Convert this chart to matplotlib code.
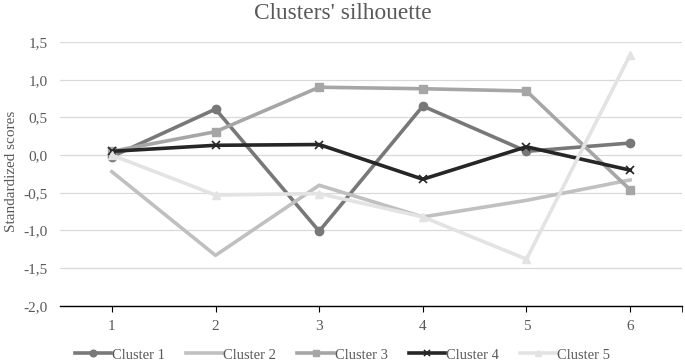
import numpy as np
import matplotlib
matplotlib.use('Agg')
import matplotlib.pyplot as plt

# values
steps = [1, 2, 3, 4, 5, 6]
cluster_1 = [-0.02, 0.61, -1.01, 0.65, 0.05, 0.16]
cluster_2 = [-0.22, -1.33, -0.40, -0.82, -0.60, -0.33]
cluster_3 = [0.05, 0.31, 0.90, 0.88, 0.85, -0.46]
cluster_4 = [0.05, 0.13, 0.14, -0.32, 0.11, -0.20]
cluster_5 = [0.00, -0.53, -0.51, -0.82, -1.38, 1.33]
labels = ['Cluster 1', 'Cluster 2', 'Cluster 3', 'Cluster 4', 'Cluster 5']
y_ticks = [-2.0, -1.5, -1.0, -0.5, 0.0, 0.5, 1.0, 1.5]

plt.rcParams['font.family'] = ['Liberation Serif', 'DejaVu Serif']

styles = [
    dict(color='#787878', marker='o', ms=6),
    dict(color='#c0c0c0', marker=None),
    dict(color='#a6a6a6', marker='s', ms=5.5),
    dict(color='#262626', marker='x', ms=6, mew=1.2),
    dict(color='#e3e3e3', marker='^', ms=6),
]

fig = plt.figure(figsize=(6.85, 3.62), dpi=100)
ax = fig.add_axes([0.0876, 0.155, 0.908, 0.729])

for vals, lab, st in zip([cluster_1, cluster_2, cluster_3, cluster_4, cluster_5], labels, styles):
    ax.plot(steps, vals, lw=2.6, label=lab, **st)

ax.set_xlim(0.5, 6.5)
ax.set_ylim(-2.0, 1.5)
ax.set_xticks(steps)
ax.set_xticks([6.5], minor=True)
ax.set_yticks(y_ticks)
ax.set_yticklabels([f'{v:.1f}'.replace('.', ',') for v in y_ticks])
ax.grid(axis='y', color='#d9d9d9', lw=0.9)
ax.set_axisbelow(True)
for s in ['top', 'right', 'left']:
    ax.spines[s].set_visible(False)
ax.spines['bottom'].set_color('black')
ax.spines['bottom'].set_linewidth(1.0)
ax.tick_params(axis='y', length=0, labelsize=11, colors='#595959', pad=9)
ax.tick_params(axis='x', which='both', length=4, color='black', labelsize=11,
               labelcolor='#595959', pad=6)

ax.set_ylabel('Standardized scores', fontsize=11, color='#595959')
ax.yaxis.set_label_coords(-0.067, 0.51)
fig.text(0.5, 0.963, "Clusters' silhouette", ha='center', va='center',
         fontsize=16.8, color='#595959')

fig.legend(loc='lower center', bbox_to_anchor=(0.5, -0.035), ncol=5, frameon=False,
           fontsize=10.5, labelcolor='#595959', handlelength=2.5, handletextpad=0.05,
           columnspacing=1.45, markerscale=0.8)

fig.savefig('out.png', dpi=100)
